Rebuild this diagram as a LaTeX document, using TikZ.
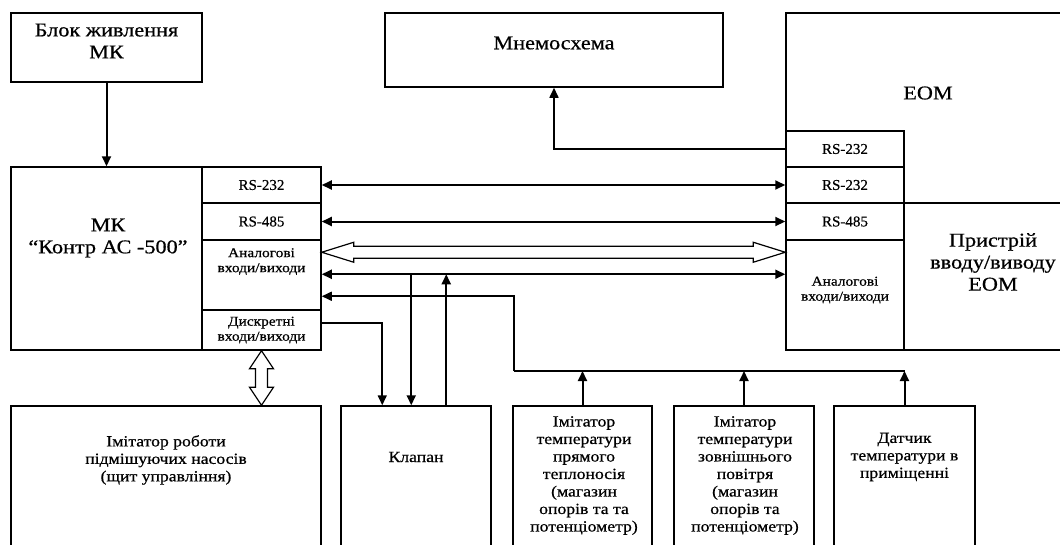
\documentclass[tikz,border=0pt]{standalone}
\usepackage{fontspec}
\setmainfont{Liberation Serif}[FakeBold=0.5]
\newfontfamily\widefont{Liberation Serif}[FakeStretch=1.14,FakeBold=0.6]
\usetikzlibrary{arrows.meta,calc}
\begin{document}
\begin{tikzpicture}[x=1pt,y=-1pt,
  box/.style={draw, line width=1.5pt, rectangle, inner sep=0pt},
  arr/.style={line width=2pt, -{Triangle[length=10pt,width=9pt]}},
  darr/.style={line width=2pt, {Triangle[length=10pt,width=9pt]}-{Triangle[length=10pt,width=9pt]}},
  ln/.style={line width=1.6pt},
  big/.style={font=\widefont\fontsize{19.5}{22}\selectfont, align=center, inner sep=0pt},
  mid/.style={font=\fontsize{15}{17.5}\selectfont, align=center},
  sml/.style={font=\widefont\fontsize{13.5}{15}\selectfont, align=center, inner sep=0pt},
  midt/.style={font=\widefont\fontsize{15.5}{17.5}\selectfont, align=center, inner sep=0pt},
  hollow/.style={draw, line width=1.2pt, fill=white, line join=miter}
]
\useasboundingbox (0,0) rectangle (1060,544);
\clip (0,0) rectangle (1060,544);

% boxes
\node[box, minimum width=191pt, minimum height=69pt] (blok) at (106.5,47.5) {};
\node[box, minimum width=310pt, minimum height=183pt] (mk) at (166,258.5) {};
\node[box, mid, minimum width=119pt, minimum height=36pt] (mk232) at (261.5,185) {RS-232};
\node[box, mid, minimum width=119pt, minimum height=37pt] (mk485) at (261.5,221.5) {RS-485};
\node[box, minimum width=119pt, minimum height=70pt] (mkan) at (261.5,275) {};
\node[box, sml, minimum width=119pt, minimum height=40pt] (mkdis) at (261.5,330) {Дискретні\\входи/виходи};
\node[box, minimum width=338pt, minimum height=74pt] (mnemo) at (554,50) {};
\node[box, minimum width=294pt, minimum height=190pt] (eom) at (933,108) {};
\node[box, mid, minimum width=118pt, minimum height=36pt] (eom232a) at (845,149) {RS-232};
\node[box, mid, minimum width=118pt, minimum height=36pt] (eom232b) at (845,185) {RS-232};
\node[box, minimum width=294pt, minimum height=147pt] (pr) at (933,276.5) {};
\node[box, mid, minimum width=118pt, minimum height=37pt] (eom485) at (845,221.5) {RS-485};
\node[box, minimum width=118pt, minimum height=110pt] (eoman) at (845,295) {};
\node[box, minimum width=310pt, minimum height=164pt] (imit) at (166,488) {};
\node[box, minimum width=150pt, minimum height=164pt] (klapan) at (416,488) {};
\node[box, minimum width=139pt, minimum height=164pt] (im1) at (582.5,488) {};
\node[box, minimum width=140pt, minimum height=164pt] (im2) at (744,488) {};
\node[box, minimum width=141pt, minimum height=164pt] (dat) at (904.5,488) {};

% texts
\node[big] (tblok) at (106.5,41) {Блок живлення\\МК};
\node[big] (tmk) at (108,238) {МК\\“Контр АС -500”};
\node[sml] (tmkan) at (261.5,261.5) {Аналогові\\входи/виходи};
\node[big] (tmnemo) at (554,43) {Мнемосхема};
\node[big] (teom) at (928,93) {ЕОМ};
\node[big] (tpr) at (993,262) {Пристрій\\вводу/виводу\\ЕОМ};
\node[sml] (teoman) at (845,290) {Аналогові\\входи/виходи};
\node[midt] (timit) at (166,460) {Імітатор роботи\\підмішуючих насосів\\(щит управління)};
\node[midt] (tklapan) at (416,457) {Клапан};
\node[midt] (tim1) at (584,475.5) {Імітатор\\температури\\прямого\\теплоносія\\(магазин\\опорів та та\\потенціометр)};
\node[midt] (tim2) at (745,475.5) {Імітатор\\температури\\зовнішнього\\повітря\\(магазин\\опорів та\\потенціометр)};
\node[midt] (tdat) at (904.5,457) {Датчик\\температури в\\приміщенні};

% connectors
\draw[arr] (blok.south) -- (blok.south |- mk.north);
\draw[darr] (mk232.east) -- (eom232b.west);
\draw[darr] (mk485.east) -- (eom485.west);

\coordinate (hA) at ($(mkan.north east)+(0,13)$);
\coordinate (hB) at ($(eoman.north west)+(0,13)$);
\draw[hollow] (hA) -- ++(32,-10) -- ++(0,4) -- ($(hB)+(-32,-6)$) -- ++(0,-4) -- (hB)
  -- ++(-32,10) -- ++(0,-4) -- ($(hA)+(32,6)$) -- ++(0,4) -- cycle;

\coordinate (a4L) at ($(mkan.north east)+(0,35)$);
\coordinate (a4R) at ($(eoman.north west)+(0,35)$);
\draw[darr] (a4L) -- (a4R);

\coordinate (kv1) at ($(klapan.north west)+(42,0)$);
\coordinate (kv2) at ($(klapan.north west)+(71,0)$);
\coordinate (kv3) at ($(klapan.north west)+(106,0)$);
\draw[arr] (kv2 |- a4L) -- (kv2);
\draw[arr] (kv3) -- (kv3 |- a4L);
\coordinate (d1) at ($(mkdis.east)+(0,-7)$);
\draw[arr, line width=1.6pt] (d1) -| (kv1);

\coordinate (a5) at ($(mkan.north east)+(0,57)$);
\coordinate (bus) at (514,371);
\draw[arr, line width=1.6pt] (bus) |- (a5);
\draw[ln] (bus) -- (bus -| dat.north);
\draw[arr] (im1.north) -- (im1.north |- bus);
\draw[arr] (im2.north) -- (im2.north |- bus);
\draw[arr] (dat.north) -- (dat.north |- bus);

\draw[arr, line width=1.6pt] (eom232a.west) -| (mnemo.south);

\coordinate (vA) at (mkdis.south);
\coordinate (vB) at (mkdis.south |- imit.north);
\draw[hollow] (vA) -- ++(12,18) -- ++(-6,0) -- ($(vB)+(6,-18)$) -- ++(6,0) -- (vB)
  -- ++(-12,-18) -- ++(6,0) -- ($(vA)+(-6,18)$) -- ++(-6,0) -- cycle;
\end{tikzpicture}
\end{document}
